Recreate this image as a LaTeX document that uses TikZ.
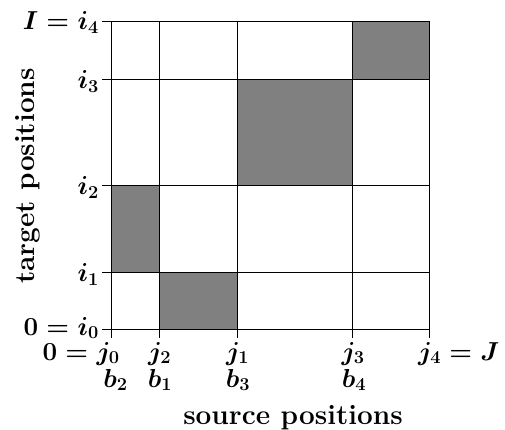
\RequirePackage{fix-cm}
\documentclass[tikz,border=0pt]{standalone}
\begin{document}
\begin{tikzpicture}[x=1pt,y=-1pt,
  gridline/.style={line width=0.8pt,draw=black},
  block/.style={fill=black!50,draw=black,line width=0.9pt},
  lbl/.style={inner sep=0pt,font=\fontsize{26}{30}\selectfont\bfseries\boldmath},
  ttl/.style={inner sep=0pt,anchor=base,font=\fontsize{28}{32}\selectfont\bfseries},
  leftlbl/.style={lbl,anchor=base east},
  botlbl/.style={lbl,anchor=base}]
\useasboundingbox (0,0) rectangle (505,430);
% blocks
\fill[block] (352.5,21.5) rectangle (429.5,79.5);
\fill[block] (237,79.5) rectangle (352.5,185);
\fill[block] (111.5,185) rectangle (159.5,272);
\fill[block] (159.5,272) rectangle (237,329.5);
% grid
\foreach \x in {111.5,159.5,237,352.5,429.5}
  \draw[gridline] (\x,21.5) -- (\x,338);
\foreach \y in {21.5,79.5,185,272,329.5}
  \draw[gridline] (102,\y) -- (429.5,\y);
\draw[block,fill=none] (352.5,21.5) rectangle (429.5,79.5);
\draw[block,fill=none] (237,79.5) rectangle (352.5,185);
\draw[block,fill=none] (111.5,185) rectangle (159.5,272);
\draw[block,fill=none] (159.5,272) rectangle (237,329.5);
% left labels
\node[leftlbl] (i4) at (99,30) {$I=i_4$};
\node[leftlbl] (i3) at (99,88.5) {$i_3$};
\node[leftlbl] (i2) at (99,194.5) {$i_2$};
\node[leftlbl] (i1) at (99,281.5) {$i_1$};
\node[leftlbl] (i0) at (99,335) {$0=i_0$};
% bottom labels
\node[botlbl] (j0) at (108,360) {\llap{$0={}$}$j_0$};
\node[botlbl] (j2) at (159.5,360) {$j_2$};
\node[botlbl] (j1) at (237.5,360) {$j_1$};
\node[botlbl] (j3) at (353,360) {$j_3$};
\node[botlbl] (j4) at (429.5,360) {$j_4$\rlap{${}=J$}};
\node[botlbl] (b2) at (115.5,387) {$b_2$};
\node[botlbl] (b1) at (160,387) {$b_1$};
\node[botlbl] (b3) at (238,387) {$b_3$};
\node[botlbl] (b4) at (354,387) {$b_4$};
% axis titles
\node[ttl] (src) at (293,424) {source positions};
\node[ttl,rotate=90] (tgt) at (34,176) {target positions};
\end{tikzpicture}
\end{document}
